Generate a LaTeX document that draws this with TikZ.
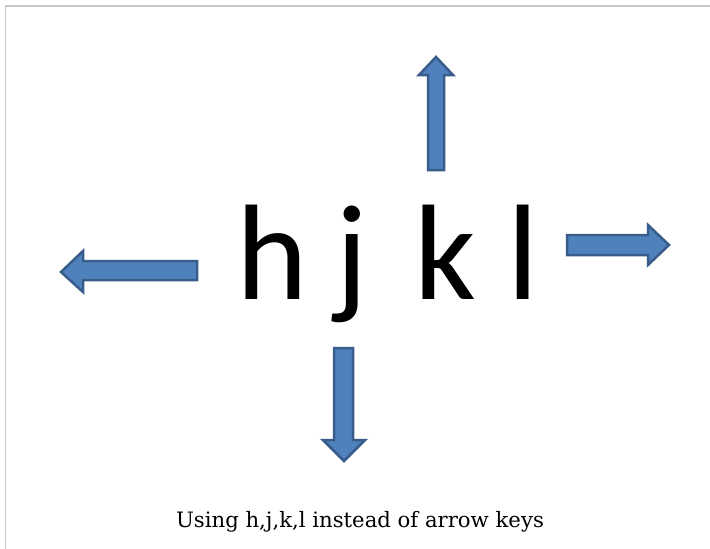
\documentclass[tikz,border=0pt]{standalone}
\usepackage{fontspec}
\setmainfont{DejaVu Serif}
\newfontfamily\keyfont{Carlito}
\definecolor{arrfill}{HTML}{4F81BD}
\definecolor{arrline}{HTML}{385D8A}
\definecolor{frame}{HTML}{C8C8C8}
\begin{document}
\begin{tikzpicture}[x=1pt,y=-1pt,
  keyletter/.style={inner sep=0pt, anchor=base, font=\keyfont\fontsize{136}{136}\selectfont},
  blockarrow/.style={fill=arrfill, draw=arrline, line width=2.5pt, line join=miter},
  caption/.style={inner sep=0pt, anchor=base, font=\fontsize{21.2}{25}\selectfont}]
\useasboundingbox (0,0) rectangle (710,549);
\fill[white] (0,0) rectangle (710,549);
\draw[frame, line width=1.2pt] (5.5,549) -- (5.5,6) -- (710,6);
% letters
\node[keyletter] (h) at (272.5,299) {h};
\node[keyletter] (j) at (352,299) {j};
\node[keyletter] (k) at (445,299) {k};
\node[keyletter] (l) at (523.5,299) {l};
% up arrow
\draw[blockarrow] (428,170) -- (428,75) -- (419,75) -- (436,57) -- (453,75) -- (444,75) -- (444,170) -- cycle;
% left arrow
\draw[blockarrow] (197,261) -- (83,261) -- (83,251) -- (61,272) -- (83,292) -- (83,280) -- (197,280) -- cycle;
% right arrow
\draw[blockarrow] (567,235) -- (648,235) -- (648,225) -- (669,245) -- (648,265) -- (648,255) -- (567,255) -- cycle;
% down arrow
\draw[blockarrow] (334,348) -- (334,440) -- (323,440) -- (344,461) -- (365,440) -- (353,440) -- (353,348) -- cycle;
\node[caption] (cap) at (360,527) {Using h,j,k,l instead of arrow keys};
\end{tikzpicture}
\end{document}
